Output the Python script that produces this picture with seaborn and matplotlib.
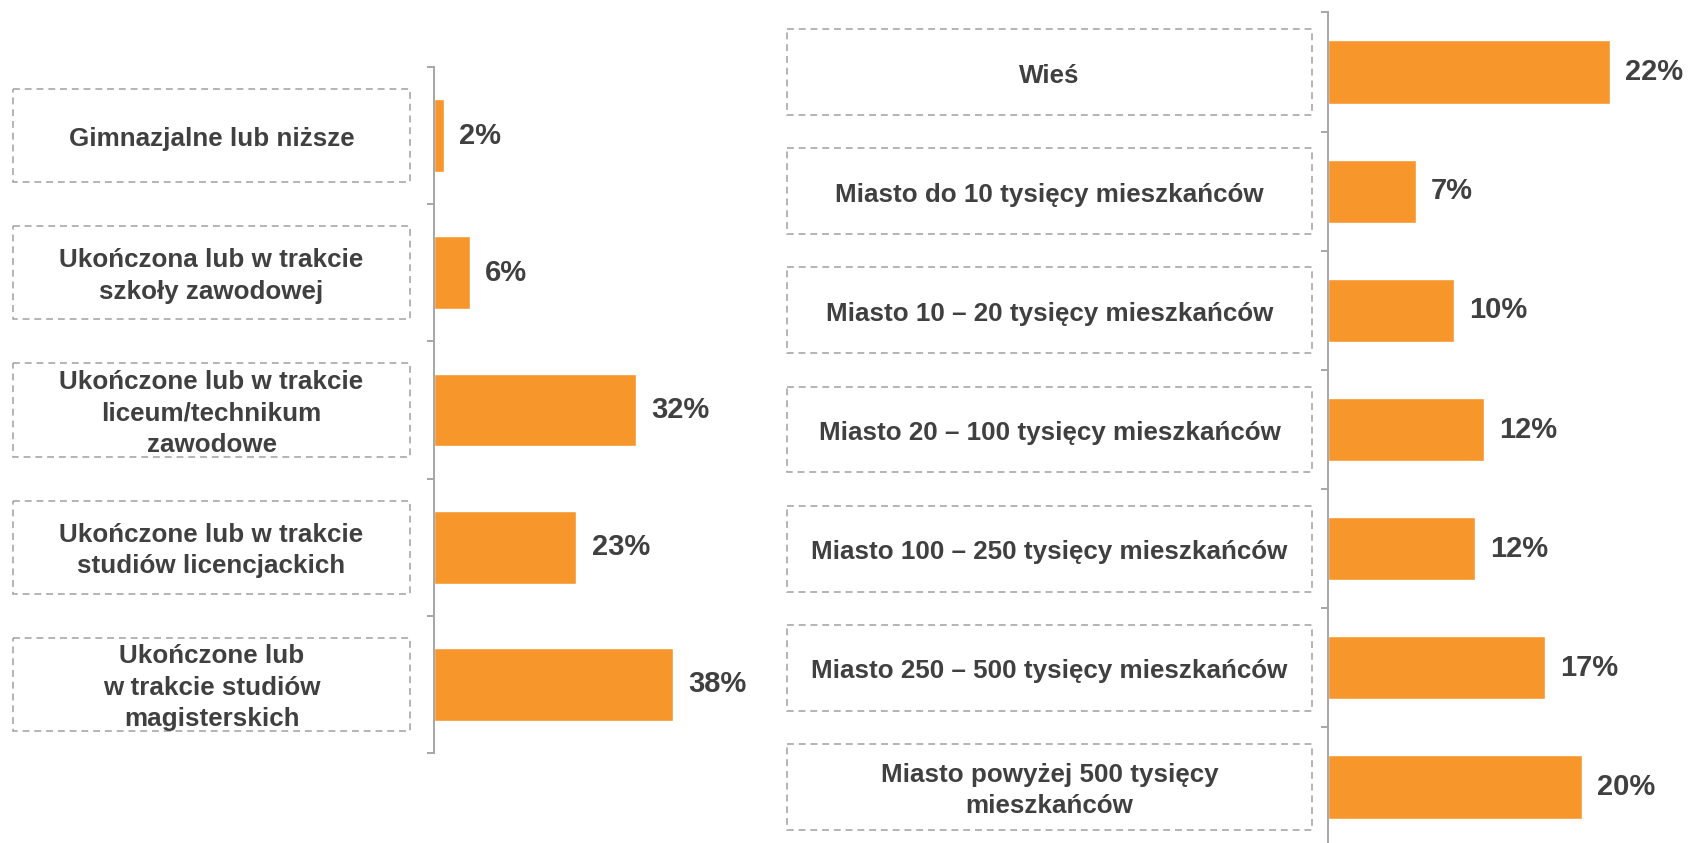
import matplotlib.pyplot as plt
import numpy as np
import seaborn as sns
from matplotlib.patches import Rectangle
from matplotlib.transforms import blended_transform_factory

edu_labels = [
    "Gimnazjalne lub niższe",
    "Ukończona lub w trakcie\nszkoły zawodowej",
    "Ukończone lub w trakcie\nliceum/technikum\nzawodowe",
    "Ukończone lub w trakcie\nstudiów licencjackich",
    "Ukończone lub\nw trakcie studiów\nmagisterskich",
]
edu_values = [1.6, 5.7, 32.0, 22.6, 38.0]
edu_text = ["2%", "6%", "32%", "23%", "38%"]

town_labels = [
    "Wieś",
    "Miasto do 10 tysięcy mieszkańców",
    "Miasto 10 – 20 tysięcy mieszkańców",
    "Miasto 20 – 100 tysięcy mieszkańców",
    "Miasto 100 – 250 tysięcy mieszkańców",
    "Miasto 250 – 500 tysięcy mieszkańców",
    "Miasto powyżej 500 tysięcy\nmieszkańców",
]
town_values = [22.2, 6.9, 9.9, 12.3, 11.6, 17.1, 20.0]
town_text = ["22%", "7%", "10%", "12%", "12%", "17%", "20%"]

orange = "#F7962B"
dark = "#404040"
grey = "#A6A6A6"

sns.set_theme(style="white")
plt.rcParams["font.family"] = ["Liberation Sans", "DejaVu Sans"]
plt.rcParams["font.weight"] = "bold"

fig = plt.figure(figsize=(16.9, 8.43), dpi=100)
ax_edu = fig.add_axes([0.2568, 0.1068, 0.1491, 0.8137])
ax_town = fig.add_axes([0.7858, -0.0043, 0.1879, 0.9895])


def draw(ax, labels, values, texts, xmax, box_x, box_h):
    n = len(labels)
    sns.barplot(x=values, y=labels, orient="h", color=orange, saturation=1,
                width=0.53, ax=ax)
    ax.set_xlim(0, xmax)
    ax.set_ylim(n - 0.5, -0.5)
    ax.set_yticks(np.arange(-0.5, n, 1))
    ax.set_yticklabels([])
    ax.set_xticks([])
    ax.set_xlabel("")
    ax.set_ylabel("")
    for side in ["top", "right", "bottom"]:
        ax.spines[side].set_visible(False)
    ax.spines["left"].set_color(grey)
    ax.spines["left"].set_linewidth(1.4)
    ax.tick_params(axis="y", left=True, direction="out", length=5,
                   width=1.4, color=grey)
    trans = blended_transform_factory(fig.transFigure, ax.transData)
    for i, (lab, v, t) in enumerate(zip(labels, values, texts)):
        ax.add_patch(Rectangle((box_x[0], i - box_h / 2), box_x[1] - box_x[0], box_h,
                               transform=trans, fill=False, edgecolor="#A0A0A0",
                               linewidth=1.1, linestyle=(0, (4.5, 3.2)), clip_on=False))
        ax.annotate(lab, xy=((box_x[0] + box_x[1]) / 2, i), xycoords=trans,
                    xytext=(0, -2.5), textcoords="offset points", ha="center",
                    va="center", multialignment="center", fontsize=18.7,
                    fontweight="bold", color=dark, linespacing=1.4,
                    annotation_clip=False)
        ax.annotate(t, xy=(v, i), xytext=(11, 0), textcoords="offset points",
                    va="center", ha="left", fontsize=21, fontweight="bold",
                    color=dark, annotation_clip=False)


draw(ax_edu, edu_labels, edu_values, edu_text, 40, (0.0077, 0.2426), 0.68)
draw(ax_town, town_labels, town_values, town_text, 25, (0.4657, 0.7763), 0.72)

fig.savefig("out.png", dpi=100)
